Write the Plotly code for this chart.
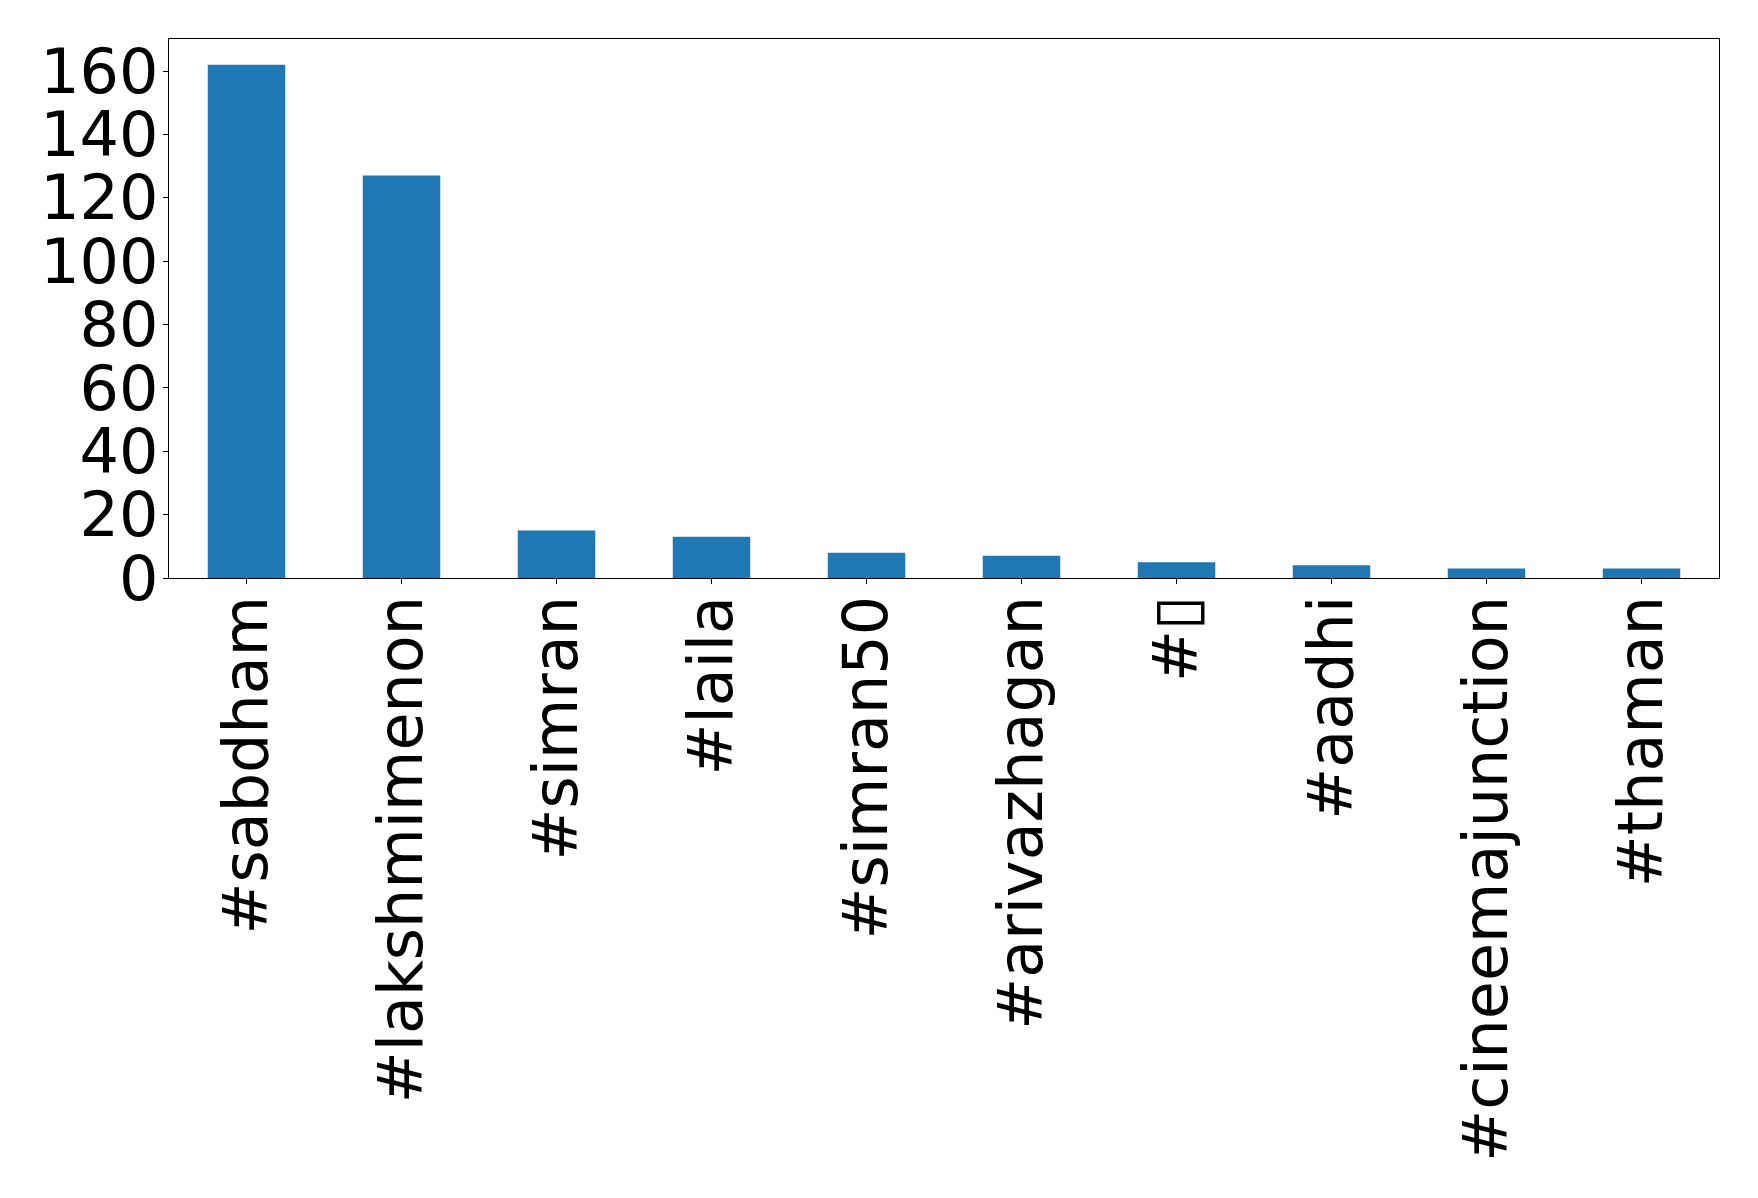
import plotly.graph_objects as go

categories = ["#sabdham", "#lakshmimenon", "#simran", "#laila", "#simran50",
              "#arivazhagan", "#\u25af", "#aadhi", "#cineemajunction", "#thaman"]
counts = [162, 127, 15, 13, 8, 7, 5, 4, 3, 3]
y_ticks = [0, 20, 40, 60, 80, 100, 120, 140, 160]

# page body adds an 8px offset; margins compensate for it
W, H = 1758, 1198
L, R, T, B = 161, 47, 31, 628

fig = go.Figure(go.Bar(x=categories, y=counts, marker_color="#1f77b4",
                       marker_line_width=0, width=0.5))

font = dict(family="DejaVu Sans", size=62, color="black")
fig.update_layout(
    template="none",
    width=W, height=H,
    margin=dict(l=L, r=R, t=T, b=B, autoexpand=False),
    paper_bgcolor="white", plot_bgcolor="white",
    showlegend=False, bargap=0.5,
    font=font,
)
fig.update_xaxes(range=[-0.5, 9.5], showline=True, linecolor="black", linewidth=1.2,
                 mirror=True, ticks="outside", ticklen=5, tickcolor="black",
                 tickangle=-90, showgrid=False, zeroline=False, tickfont=font,
                 automargin=False, ticklabelstandoff=-13)
fig.update_yaxes(range=[0, 170.1], showline=True, linecolor="black", linewidth=1.2,
                 mirror=True, ticks="outside", ticklen=5, tickcolor="black",
                 tickvals=y_ticks, showgrid=False, zeroline=False, tickfont=font,
                 automargin=False, ticklabelstandoff=-8)

fig.write_html("out.html")
